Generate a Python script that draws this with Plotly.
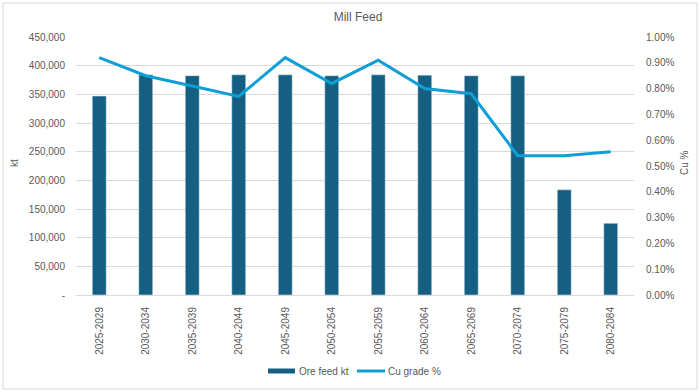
import plotly.graph_objects as go

periods = ["2025-2029", "2030-2034", "2035-2039", "2040-2044", "2045-2049", "2050-2054",
           "2055-2059", "2060-2064", "2065-2069", "2070-2074", "2075-2079", "2080-2084"]
ore_feed_kt = [347000, 384000, 382500, 384000, 384000, 382500,
               384000, 383500, 382500, 382500, 183500, 125000]
cu_grade_pct = [0.92, 0.85, 0.81, 0.77, 0.92, 0.82,
                0.91, 0.80, 0.78, 0.54, 0.54, 0.555]

left_tickvals = [0, 50000, 100000, 150000, 200000, 250000, 300000, 350000, 400000, 450000]
left_ticktext = ["-" if v == 0 else f"{v:,}" for v in left_tickvals]
right_tickvals = [0.0, 0.1, 0.2, 0.3, 0.4, 0.5, 0.6, 0.7, 0.8, 0.9, 1.0]
right_ticktext = [f"{v:.2f}%" for v in right_tickvals]

BAR = "#156082"
LINE = "#0F9ED5"
TXT = "#595959"
GRID = "#D9D9D9"
FONT = "Liberation Sans, Arial, sans-serif"

fig = go.Figure()
fig.add_trace(go.Bar(x=periods, y=ore_feed_kt, name="Ore feed kt", marker_color=BAR,
                     width=0.3, yaxis="y", showlegend=False))
fig.add_trace(go.Scatter(x=periods, y=cu_grade_pct, name="Cu grade %", mode="lines",
                         line=dict(color=LINE, width=3), yaxis="y2", showlegend=False))

W, H = 700, 392
ml, mr, mt, mb = 76, 66, 37, 97
pw, ph = W - ml - mr, H - mt - mb


def px(x):
    return (x - ml) / pw


def py(y):
    return (H - mb - y) / ph


fig.update_layout(
    width=W, height=H,
    margin=dict(l=ml, r=mr, t=mt, b=mb, pad=0, autoexpand=False),
    paper_bgcolor="white", plot_bgcolor="white",
    font=dict(family=FONT, color=TXT, size=10),
    title=dict(text="Mill Feed", x=358 / W, xanchor="center", y=1 - 17 / H, yanchor="middle",
               font=dict(size=12, color=TXT, family=FONT)),
    showlegend=False,
    xaxis=dict(type="category", tickangle=-90, showgrid=False, showline=True, linecolor=GRID,
               linewidth=1, ticks="", tickfont=dict(size=10, color=TXT), zeroline=False,
               automargin=False, ticklabelstandoff=7),
    yaxis=dict(range=[0, 450000], tickvals=left_tickvals, ticktext=left_ticktext,
               showgrid=True, gridcolor=GRID, gridwidth=1, zeroline=False, showline=False,
               tickfont=dict(size=10, color=TXT), ticklabelstandoff=10, automargin=False),
    yaxis2=dict(range=[0, 1.0], tickvals=right_tickvals, ticktext=right_ticktext, overlaying="y",
                side="right", showgrid=False, zeroline=False, showline=False,
                tickfont=dict(size=10, color=TXT), ticklabelstandoff=11, automargin=False),
    bargap=0.7,
)

# outer chart border
fig.add_shape(type="rect", xref="paper", yref="paper",
              x0=px(3), x1=px(697), y0=py(389), y1=py(3),
              line=dict(color="#D9D9D9", width=1), fillcolor="rgba(0,0,0,0)", layer="below")

# axis titles
fig.add_annotation(text="kt", xref="paper", yref="paper", x=px(14), y=py(163), showarrow=False,
                   textangle=-90, font=dict(size=10, color=TXT), xanchor="center", yanchor="middle")
fig.add_annotation(text="Cu %", xref="paper", yref="paper", x=px(684), y=py(163), showarrow=False,
                   textangle=-90, font=dict(size=10, color=TXT), xanchor="center", yanchor="middle")

# legend (drawn manually to match the wide bar swatch)
fig.add_shape(type="rect", xref="paper", yref="paper", x0=px(268), x1=px(295),
              y0=py(373.5), y1=py(368.5), fillcolor=BAR, line=dict(width=0))
fig.add_annotation(text="Ore feed kt", xref="paper", yref="paper", x=px(297), y=py(371),
                   showarrow=False, xanchor="left", yanchor="middle", font=dict(size=10, color=TXT))
fig.add_shape(type="line", xref="paper", yref="paper", x0=px(357), x1=px(385),
              y0=py(371), y1=py(371), line=dict(color=LINE, width=3))
fig.add_annotation(text="Cu grade %", xref="paper", yref="paper", x=px(386), y=py(371),
                   showarrow=False, xanchor="left", yanchor="middle", font=dict(size=10, color=TXT))

fig.write_html("out.html", config={"displayModeBar": False},
               post_script="document.body.style.margin='0';document.body.style.overflow='hidden';")
